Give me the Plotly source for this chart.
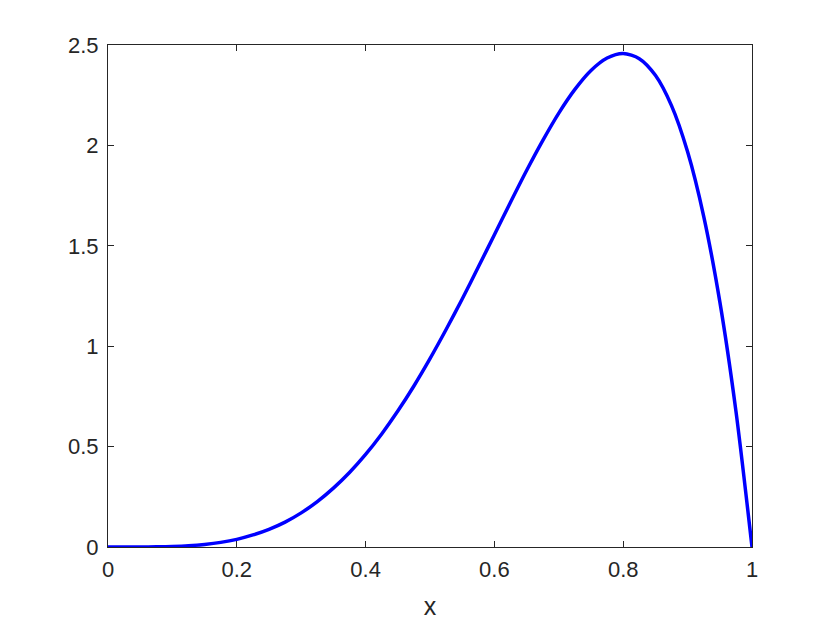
"""Beta-like density curve on [0, 1], MATLAB-style axes."""

import plotly.graph_objects as go

X_VALUES = [
    0.0, 0.025, 0.05, 0.075, 0.1, 0.125, 0.15, 0.175, 0.2, 0.225,
    0.25, 0.275, 0.3, 0.325, 0.35, 0.375, 0.4, 0.425, 0.45, 0.475,
    0.5, 0.525, 0.55, 0.575, 0.6, 0.625, 0.65, 0.675, 0.7, 0.725,
    0.75, 0.775, 0.8, 0.825, 0.85, 0.875, 0.9, 0.925, 0.95, 0.975, 1.0,
]
Y_VALUES = [
    0.0, 0.0, 0.0002, 0.0009, 0.0027, 0.0064, 0.013, 0.023, 0.038, 0.060,
    0.088, 0.124, 0.170, 0.226, 0.293, 0.371, 0.461, 0.563, 0.677, 0.802,
    0.938, 1.083, 1.235, 1.394, 1.555, 1.717, 1.875, 2.024, 2.161, 2.279,
    2.373, 2.435, 2.458, 2.432, 2.349, 2.198, 1.968, 1.647, 1.222, 0.678, 0.0,
]
X_TICKS = [0, 0.2, 0.4, 0.6, 0.8, 1]
X_TICK_TEXT = ["0", "0.2", "0.4", "0.6", "0.8", "1"]
Y_TICKS = [0, 0.5, 1, 1.5, 2, 2.5]
Y_TICK_TEXT = ["0", "0.5", "1", "1.5", "2", "2.5"]

AXIS_COLOR = "#262626"
LINE_BLUE = "#0000ff"
FONT = "Liberation Sans, Arial, sans-serif"

fig = go.Figure()
fig.add_trace(
    go.Scatter(
        x=X_VALUES,
        y=Y_VALUES,
        mode="lines",
        line={"color": LINE_BLUE, "width": 3.5, "shape": "spline", "smoothing": 0.8},
        showlegend=False,
    )
)

axis_common = {
    "showgrid": False,
    "zeroline": False,
    "showline": True,
    "mirror": "ticks",
    "linecolor": AXIS_COLOR,
    "linewidth": 1,
    "ticks": "inside",
    "ticklen": 6,
    "tickcolor": AXIS_COLOR,
    "tickfont": {"family": FONT, "size": 22, "color": AXIS_COLOR},
}

# the page body adds an 8px offset, so margins are shifted to compensate
fig.update_layout(
    width=830,
    height=623,
    paper_bgcolor="white",
    plot_bgcolor="white",
    margin={"l": 100, "r": 86, "t": 37, "b": 84},
    xaxis={
        **axis_common,
        "range": [0, 1],
        "tickvals": X_TICKS,
        "ticktext": X_TICK_TEXT,
        "ticklabelstandoff": 3,
        "title": {"text": "x", "font": {"family": FONT, "size": 25, "color": AXIS_COLOR}, "standoff": 16},
    },
    yaxis={
        **axis_common,
        "range": [0, 2.5],
        "tickvals": Y_TICKS,
        "ticktext": Y_TICK_TEXT,
        "ticklabelstandoff": 4,
    },
)

fig.write_html("out.html")
